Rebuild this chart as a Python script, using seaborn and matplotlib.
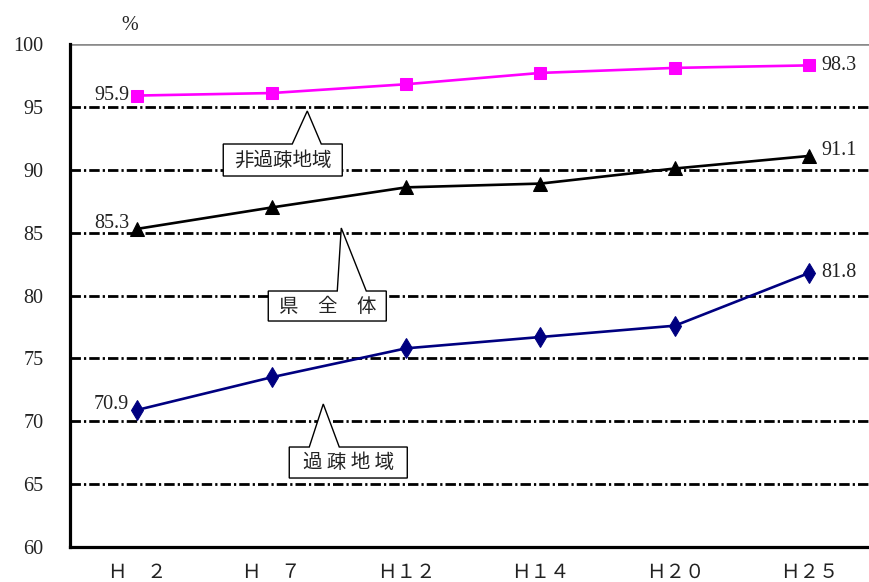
import numpy as np
import pandas as pd
import matplotlib
matplotlib.use("Agg")
import matplotlib.pyplot as plt
from matplotlib.patches import Polygon
import seaborn as sns

# ---- data -------------------------------------------------------------
years = ["Ｈ　２", "Ｈ　７", "Ｈ１２", "Ｈ１４", "Ｈ２０", "Ｈ２５"]
non_depopulated = [95.9, 96.1, 96.8, 97.7, 98.1, 98.3]   # 非過疎地域
prefecture = [85.3, 87.0, 88.6, 88.9, 90.1, 91.1]        # 県全体
depopulated = [70.9, 73.5, 75.8, 76.7, 77.6, 81.8]       # 過疎地域
y_ticks = [60, 65, 70, 75, 80, 85, 90, 95, 100]
dashed_levels = [65, 70, 75, 80, 85, 90, 95]

# ---- style ------------------------------------------------------------
sns.set_style("white")
plt.rcParams["font.family"] = ["Liberation Serif", "Noto Sans CJK JP", "DejaVu Sans"]
plt.rcParams["lines.scale_dashes"] = False
TXT = "#222222"

fig = plt.figure(figsize=(8.7, 5.82), dpi=100)
ax = fig.add_axes([0.0805, 0.0601, 0.927, 0.8643])

pos = np.arange(len(years))
df = pd.DataFrame({
    "pos": np.tile(pos, 3),
    "value": non_depopulated + prefecture + depopulated,
    "area": ["非過疎地域"] * 6 + ["県全体"] * 6 + ["過疎地域"] * 6,
})

# dash-dot reference lines and the grey line at 100
for lv in dashed_levels:
    ax.axhline(lv, color="black", lw=2.0, dashes=(7.5, 2.2, 1.6, 2.2), zorder=1)
ax.axhline(100, color="#8a8a8a", lw=2.6, zorder=1)

styles = {
    "非過疎地域": dict(color="#FF00FF", marker="s", markersize=8.5),
    "県全体": dict(color="black", marker="^", markersize=9.5),
    "過疎地域": dict(color="#000080", marker="d", markersize=10),
}
for name, st in styles.items():
    sns.lineplot(data=df[df["area"] == name], x="pos", y="value", ax=ax,
                 color=st["color"], marker=st["marker"], markersize=st["markersize"],
                 markeredgecolor=st["color"], linewidth=1.9, zorder=4,
                 legend=False, errorbar=None)

# end-point value labels
lab_kw = dict(fontsize=14.5, color=TXT, zorder=6)
for series, dy_first, dy_last in [(non_depopulated, 0.0, 0.0),
                                  (prefecture, 0.4, 0.4),
                                  (depopulated, 0.45, 0.0)]:
    ax.text(pos[0] - 0.06, series[0] + dy_first, f"{series[0]:.1f}",
            ha="right", va="center", **lab_kw)
    ax.text(pos[-1] + 0.09, series[-1] + dy_last, f"{series[-1]:.1f}",
            ha="left", va="center", **lab_kw)

# ---- callout boxes ----------------------------------------------------
def callout(x0, x1, y_top, y_bot, p1, tip, p2, label, fs=14):
    verts = [(x0, y_top), (p1, y_top), tip, (p2, y_top), (x1, y_top),
             (x1, y_bot), (x0, y_bot)]
    ax.add_patch(Polygon(verts, closed=True, facecolor="white",
                         edgecolor="black", lw=1.0, zorder=5))
    ax.text((x0 + x1) / 2, (y_top + y_bot) / 2, label, ha="center",
            va="center", fontsize=fs, color=TXT, zorder=6,
            family=["Noto Sans CJK JP"])

def px_x(px):
    return (px - 137) / 134.4

def px_y(py):
    return 60 + (547 - py) / 12.575

callout(px_x(223), px_x(342), px_y(144), px_y(176),
        px_x(292), (px_x(307), px_y(111)), px_x(321), "非過疎地域")
callout(px_x(268), px_x(386), px_y(291), px_y(321),
        px_x(337), (px_x(341), px_y(228)), px_x(366), "県　全　体")
callout(px_x(289), px_x(407), px_y(447), px_y(478),
        px_x(309), (px_x(323), px_y(404)), px_x(339), "過 疎 地 域")

# ---- axes -------------------------------------------------------------
ax.set_xlim(-0.5, 5.5)
ax.set_ylim(60, 100)
ax.set_yticks(y_ticks)
ax.set_yticklabels([str(t) for t in y_ticks], fontsize=14.5, color=TXT)
ax.tick_params(axis="y", length=0, pad=19)

ax.set_xticks(pos[:-1] + 0.5)
ax.set_xticklabels([])
ax.tick_params(axis="x", which="major", direction="in", length=4.5,
               width=1.6, color="black")
ax.set_xticks(pos, minor=True)
ax.set_xticklabels(years, minor=True, fontsize=14, color=TXT)
ax.tick_params(axis="x", which="minor", length=0, pad=13)

ax.set_xlabel("")
ax.set_ylabel("")
for side in ("top", "right"):
    ax.spines[side].set_visible(False)
for side in ("left", "bottom"):
    ax.spines[side].set_color("black")
    ax.spines[side].set_linewidth(2.3)
ax.spines["left"].set_zorder(7)
ax.spines["bottom"].set_zorder(7)

fig.text(130 / 870, 1 - 25 / 582, "%", ha="center", va="center",
         fontsize=14.5, color=TXT)

fig.savefig("out.png", dpi=100)
